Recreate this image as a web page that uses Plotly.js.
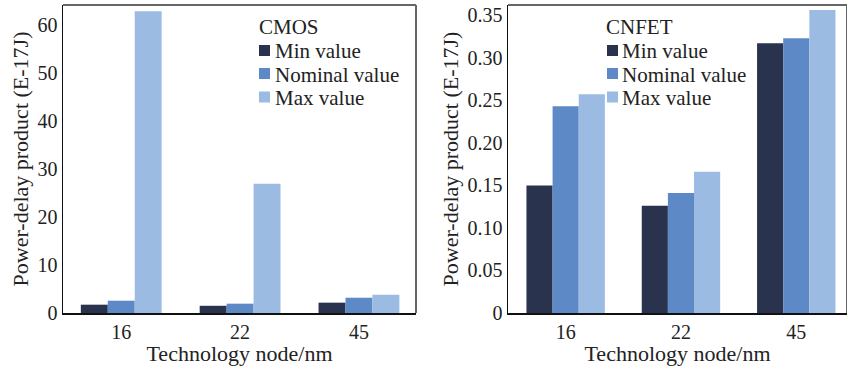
<!DOCTYPE html>
<html>
<head>
<meta charset="utf-8">
<script src="https://cdn.plot.ly/plotly-3.0.1.min.js"></script>
<style>html,body{margin:0;padding:0;background:#fff;}#chart{width:847px;height:366px;}</style>
</head>
<body>
<div id="chart"></div>
<script>
const categories = ['16', '22', '45'];
const seriesNames = ['Min value', 'Nominal value', 'Max value'];
const seriesColors = ['#29334e', '#5d89c6', '#9bbbe3'];
const cmosMin = [1.73, 1.5, 2.15];
const cmosNominal = [2.56, 1.94, 3.18];
const cmosMax = [62.8, 26.9, 3.8];
const cnfetMin = [0.150, 0.126, 0.317];
const cnfetNominal = [0.243, 0.141, 0.323];
const cnfetMax = [0.257, 0.166, 0.356];
const cmosTickVals = [0, 10, 20, 30, 40, 50, 60];
const cmosTickText = ['0', '10', '20', '30', '40', '50', '60'];
const cnfetTickVals = [0, 0.05, 0.10, 0.15, 0.20, 0.25, 0.30, 0.35];
const cnfetTickText = ['0', '0.05', '0.10', '0.15', '0.20', '0.25', '0.30', '0.35'];
const xTitle = 'Technology node/nm';
const yTitle = 'Power-delay product (E-17J)';
const legendTitles = ['CMOS', 'CNFET'];

const FONT = 'Liberation Serif';
const TXT = '#222';

const cmosData = [cmosMin, cmosNominal, cmosMax];
const cnfetData = [cnfetMin, cnfetNominal, cnfetMax];
const traces = [];
cmosData.forEach((vals, i) => traces.push({
  type: 'bar', x: categories, y: vals, name: seriesNames[i],
  marker: {color: seriesColors[i], line: {width: 0}}, xaxis: 'x', yaxis: 'y', showlegend: false
}));
cnfetData.forEach((vals, i) => traces.push({
  type: 'bar', x: categories, y: vals, name: seriesNames[i],
  marker: {color: seriesColors[i], line: {width: 0}}, xaxis: 'x2', yaxis: 'y2', showlegend: false
}));

const axX = {
  type: 'category', showgrid: false, zeroline: false, showline: true, linecolor: '#111', linewidth: 1.5,
  ticks: '', tickfont: {family: FONT, size: 20, color: TXT},
  title: {text: xTitle, font: {family: FONT, size: 22, color: TXT}, standoff: 2}
};
const axY = {
  showgrid: false, zeroline: false, showline: true, linecolor: '#111', linewidth: 1.5,
  ticks: '', tickfont: {family: FONT, size: 20, color: TXT},
  title: {text: yTitle, font: {family: FONT, size: 22, color: TXT}, standoff: 3}
};

const shapes = [];
const annotations = [];
[['x', 'y'], ['x2', 'y2']].forEach(([xa, ya]) => {
  shapes.push({type: 'line', xref: xa + ' domain', yref: ya + ' domain', x0: 0, x1: 1, y0: 1, y1: 1, line: {color: '#666', width: 2}});
  shapes.push({type: 'line', xref: xa + ' domain', yref: ya + ' domain', x0: 1, x1: 1, y0: 0, y1: 1, line: {color: '#666', width: 2}});
});

const W = 847, H = 366, mt = 5, mb = 53;
const ph = H - mt - mb;
function py(p) { return 1 - (p - mt) / ph; }
function px(p) { return p / W; }
const legendX = [[258, 259, 274], [605, 607, 621]];
const rowY = [27.5, 51, 74.5, 98];
const swatchY = [50.5, 73.5, 97];
legendX.forEach((lx, k) => {
  annotations.push({xref: 'paper', yref: 'paper', x: px(lx[0]), y: py(rowY[0]), xanchor: 'left', yanchor: 'middle',
    text: legendTitles[k], showarrow: false, borderpad: 0, font: {family: FONT, size: 21, color: TXT}});
  seriesNames.forEach((nm, i) => {
    shapes.push({type: 'rect', xref: 'paper', yref: 'paper', x0: px(lx[1]), x1: px(lx[1] + 11),
      y0: py(swatchY[i] + 5.5), y1: py(swatchY[i] - 5.5), fillcolor: seriesColors[i], line: {width: 0}});
    annotations.push({xref: 'paper', yref: 'paper', x: px(lx[2]), y: py(rowY[i + 1]), xanchor: 'left', yanchor: 'middle',
      text: nm, showarrow: false, borderpad: 0, font: {family: FONT, size: 21, color: TXT}});
  });
});

const layout = {
  width: W, height: H,
  margin: {l: 0, r: 0, t: mt, b: mb},
  paper_bgcolor: '#fff', plot_bgcolor: '#fff',
  font: {family: FONT, color: TXT},
  barmode: 'group', bargap: 0.32, bargroupgap: 0,
  showlegend: false,
  xaxis: Object.assign({}, axX, {domain: [63 / W, 416 / W], range: [-0.49, 2.48], anchor: 'y'}),
  yaxis: Object.assign({}, axY, {domain: [0, 1], range: [0, 64.1], tickvals: cmosTickVals, ticktext: cmosTickText, anchor: 'x'}),
  xaxis2: Object.assign({}, axX, {domain: [508 / W, 1], range: [-0.5, 2.44], anchor: 'y2'}),
  yaxis2: Object.assign({}, axY, {domain: [0, 1], range: [0, 0.362], tickvals: cnfetTickVals, ticktext: cnfetTickText, anchor: 'x2'}),
  shapes: shapes,
  annotations: annotations
};

Plotly.newPlot('chart', traces, layout, {displayModeBar: false, staticPlot: true});
</script>
</body>
</html>
